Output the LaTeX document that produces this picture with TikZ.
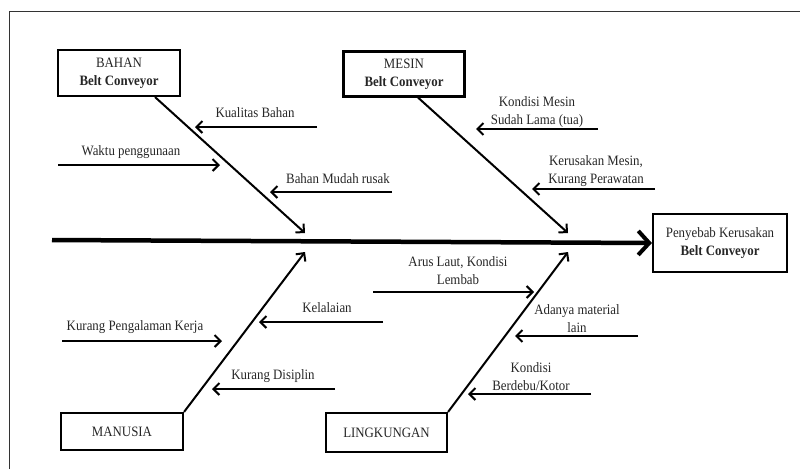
\documentclass[tikz,border=0pt]{standalone}
\usepackage{fontspec}
\setmainfont{Liberation Serif}[FakeStretch=0.9]
\usetikzlibrary{arrows.meta}
\newcommand\dgfont{\fontsize{14.3}{18}\selectfont}
\begin{document}
\begin{tikzpicture}[x=1pt,y=-1pt,
  box/.style={draw,line width=2.1pt,inner sep=0pt,align=center,font=\dgfont,text=black!85},
  lbl/.style={inner sep=0pt,align=center,font=\dgfont,text=black!85},
  bone/.style={line width=2pt,-{Straight Barb[length=6pt,width=12pt,line width=2pt]}},
  sub/.style={line width=2pt,-{Straight Barb[length=6pt,width=12pt,line width=2pt]}},
  spine/.style={line width=4.5pt,-{Straight Barb[length=11pt,width=24pt,line width=4pt]}}
]
\useasboundingbox (0,0) rectangle (800,469);
% frame
\coordinate (fr1) at (9,469);
\coordinate (fr2) at (9,11);
\coordinate (fr3) at (800,11);
\draw[line width=1pt,black!80] (fr1) -- (fr2) -- (fr3);

% boxes
\node[box,minimum width=122pt,minimum height=46pt] (bahan) at (119,73) {BAHAN\\\textbf{Belt Conveyor}};
\node[box,minimum width=121pt,minimum height=45pt] (mesin) at (404,74) {MESIN\\\textbf{Belt Conveyor}};
\node[box,minimum width=134pt,minimum height=58pt] (effect) at (720,243) {Penyebab Kerusakan\\\textbf{Belt Conveyor}};
\node[box,minimum width=122pt,minimum height=37pt] (manusia) at (122,431.5) {MANUSIA};
\node[box,minimum width=121pt,minimum height=39pt] (lingk) at (386.5,432.5) {LINGKUNGAN};

% spine
\coordinate (sp0) at (52,240);
\draw[spine] (sp0) -- (effect.west);

% bones
\coordinate (bb0) at (bahan.south -| 155,0);
\coordinate (bb1) at (305,233);
\coordinate (mb0) at (mesin.south -| 418,0);
\coordinate (mb1) at (568,233);
\coordinate (hb1) at (305,252);
\coordinate (lb1) at (568,252);
\draw[bone] (bb0) -- (bb1);
\draw[bone] (mb0) -- (mb1);
\draw[bone] (manusia.north east) -- (hb1);
\draw[bone] (lingk.north east) -- (lb1);

% sub causes: BAHAN
\coordinate (a1s) at (317,127); \coordinate (a1e) at (195,127);
\draw[sub] (a1s) -- (a1e);
\node[lbl] (t1) at (255,113) {Kualitas Bahan};
\coordinate (a2s) at (58,165); \coordinate (a2e) at (220,165);
\draw[sub] (a2s) -- (a2e);
\node[lbl] (t2) at (131,152) {Waktu penggunaan};
\coordinate (a3s) at (392,192); \coordinate (a3e) at (270,192);
\draw[sub] (a3s) -- (a3e);
\node[lbl] (t3) at (338,179) {Bahan Mudah rusak};

% MESIN
\coordinate (a4s) at (598,129); \coordinate (a4e) at (476,129);
\draw[sub] (a4s) -- (a4e);
\node[lbl] (t4) at (537,112) {Kondisi Mesin\\Sudah Lama (tua)};
\coordinate (a5s) at (655,189); \coordinate (a5e) at (532,189);
\draw[sub] (a5s) -- (a5e);
\node[lbl] (t5) at (596,171) {Kerusakan Mesin,\\Kurang Perawatan};

% MANUSIA
\coordinate (a6s) at (383,322); \coordinate (a6e) at (259,322);
\draw[sub] (a6s) -- (a6e);
\node[lbl] (t6) at (327,308) {Kelalaian};
\coordinate (a7s) at (62,341); \coordinate (a7e) at (222,341);
\draw[sub] (a7s) -- (a7e);
\node[lbl] (t7) at (135,327) {Kurang Pengalaman Kerja};
\coordinate (a8s) at (335,389); \coordinate (a8e) at (212,389);
\draw[sub] (a8s) -- (a8e);
\node[lbl] (t8) at (273,376) {Kurang Disiplin};

% LINGKUNGAN
\coordinate (a9s) at (373,292); \coordinate (a9e) at (534,292);
\draw[sub] (a9s) -- (a9e);
\node[lbl] (t9) at (458,271) {Arus Laut, Kondisi\\Lembab};
\coordinate (a10s) at (638,336); \coordinate (a10e) at (515,336);
\draw[sub] (a10s) -- (a10e);
\node[lbl] (t10) at (577,319) {Adanya material\\lain};
\coordinate (a11s) at (591,394); \coordinate (a11e) at (468,394);
\draw[sub] (a11s) -- (a11e);
\node[lbl] (t11) at (531,377) {Kondisi\\Berdebu/Kotor};
\end{tikzpicture}
\end{document}
